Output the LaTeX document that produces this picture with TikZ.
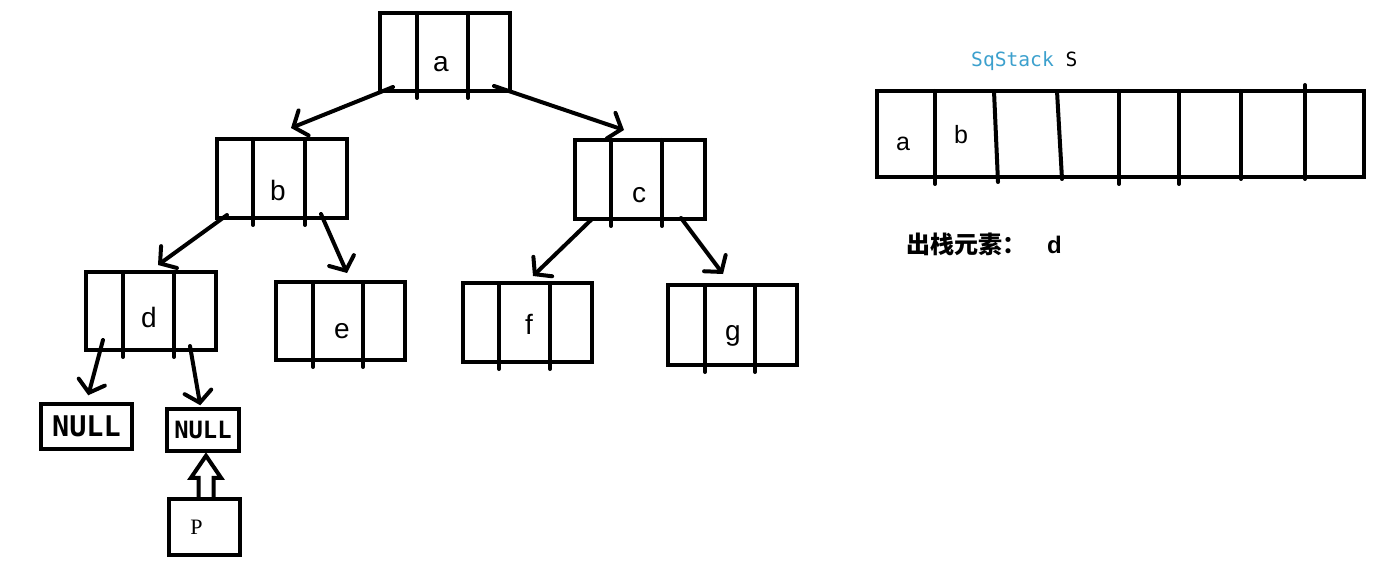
\documentclass[tikz,border=0pt]{standalone}
\usepackage{fontspec}
\setmainfont{Liberation Sans}
\newfontfamily\cjk{Noto Sans CJK SC}
\newfontfamily\dmono{DejaVu Sans Mono}
\newfontfamily\pserif{Liberation Serif}
\usetikzlibrary{arrows.meta,calc}
\definecolor{sqblue}{RGB}{60,160,205}
\tikzset{
  box/.style={draw, line width=4pt, rectangle, inner sep=0pt},
  divline/.style={line width=4pt, line cap=round},
  lab/.style={font=\fontsize{28}{28}\selectfont, anchor=base, inner sep=0pt},
  slab/.style={font=\fontsize{25}{25}\selectfont, anchor=base, inner sep=0pt},
  arr/.style={line width=4pt, line cap=round, -{Straight Barb[length=11pt,width=27pt,line cap=round]}},
  nullbox/.style={draw, line width=3.5pt, rectangle, inner sep=0pt, font=\dmono\bfseries},
}
\begin{document}
\begin{tikzpicture}[x=1pt,y=-1pt]
\useasboundingbox (0,0) rectangle (1400,564);
% tree boxes
\node[box, minimum width=130pt, minimum height=78pt] (a) at (445,52) {};
\node[box, minimum width=130pt, minimum height=79pt] (b) at (282,178.5) {};
\node[box, minimum width=130pt, minimum height=79pt] (c) at (640,179.5) {};
\node[box, minimum width=130pt, minimum height=78pt] (d) at (151,311) {};
\node[box, minimum width=129pt, minimum height=78pt] (e) at (340.5,321) {};
\node[box, minimum width=129pt, minimum height=79pt] (f) at (527.5,322.5) {};
\node[box, minimum width=129pt, minimum height=80pt] (g) at (732.5,325) {};
% dividers
\foreach \n/\p/\q in {a/39/90, b/38/90, c/38/89, d/39/90, e/39/89, f/38/89, g/39/89}{
  \draw[divline] ($(\n.north west)+(\p,2)$) -- ($(\n.south west)+(\p,5)$);
  \draw[divline] ($(\n.north west)+(\q,2)$) -- ($(\n.south west)+(\q,5)$);
}
% labels
\node[lab] (la) at (441,72) {a};
\node[lab] (lb) at (278,201) {b};
\node[lab] (lc) at (639,203) {c};
\node[lab] (ld) at (149,327) {d};
\node[lab] (le) at (342,338) {e};
\node[lab] (lf) at (529,334) {f};
\node[lab] (lg) at (733,340) {g};
% NULL and P
\node[nullbox, minimum width=91pt, minimum height=45pt, font=\dmono\bfseries\fontsize{28.5}{28.5}\selectfont] (n1) at (86.5,426.5) {NULL};
\node[nullbox, minimum width=72pt, minimum height=42pt, font=\dmono\bfseries\fontsize{23.8}{23.8}\selectfont] (n2) at (203,430) {NULL};
\node[draw, line width=4.5pt, rectangle, inner sep=0pt, minimum width=71pt, minimum height=56pt, font=\pserif\fontsize{22}{22}\selectfont] (p) at (204.5,527) {P\kern16pt\relax};
% arrows
\draw[arr] ($(a.south west)+(15,-6)$) -- ($(b.north west)+(76,-9)$);
\draw[arr] ($(a.south east)+(-18,-7)$) -- ($(c.north west)+(51,-8)$);
\draw[arr] ($(b.south west)+(12,-5)$) -- ($(d.north west)+(74,-5)$);
\draw[arr] ($(b.south west)+(106,-6)$) -- ($(e.north west)+(73,-7)$);
\draw[arr] ($(c.south west)+(19,-2)$) -- ($(f.north west)+(72,-5)$);
\draw[arr] ($(c.south west)+(108,-3)$) -- ($(g.north west)+(57,-9)$);
\draw[arr] ($(d.south west)+(19,-12)$) -- ($(n1.north west)+(49,-7)$);
\draw[arr] ($(d.south west)+(106,-6)$) -- ($(n2.north west)+(35,-2)$);
% hollow arrow from P to NULL
\coordinate (h) at ($(p.north)+(1.5,0)$);
\draw[line width=4pt, line join=miter] ($(h)+(-7.5,0)$) -- ($(h)+(-7.5,-19)$) -- ($(h)+(-15,-19)$) -- ($(h)+(0,-41)$) -- ($(h)+(15,-19)$) -- ($(h)+(7.5,-19)$) -- ($(h)+(7.5,0)$);
% stack
\node[box, minimum width=487pt, minimum height=86pt] (s) at (1120.5,134) {};
\draw[divline] ($(s.north west)+(60,2)$) -- ($(s.south west)+(60,5)$);
\draw[divline] ($(s.north west)+(119,2)$) -- ($(s.south west)+(123,3)$);
\draw[divline] ($(s.north west)+(182,2)$) -- ($(s.south west)+(187,0)$);
\draw[divline] ($(s.north west)+(244,2)$) -- ($(s.south west)+(244,5)$);
\draw[divline] ($(s.north west)+(304,2)$) -- ($(s.south west)+(304,5)$);
\draw[divline] ($(s.north west)+(366,2)$) -- ($(s.south west)+(366,0)$);
\draw[divline] ($(s.north west)+(430,-4)$) -- ($(s.south west)+(430,0)$);
\node[slab] (sa) at (903,151) {a};
\node[slab] (sb) at (961,144) {b};
\node[anchor=base west, inner sep=0pt, font=\dmono\fontsize{19.6}{19.6}\selectfont] (title) at (971,67) {\textcolor{sqblue}{SqStack} S};
\node[anchor=base west, inner sep=0pt] (out) at (906,254) {{\cjk\bfseries\fontsize{24}{24}\selectfont 出栈元素：}\hspace{21pt}{\bfseries\fontsize{24}{24}\selectfont d}};
\end{tikzpicture}
\end{document}
